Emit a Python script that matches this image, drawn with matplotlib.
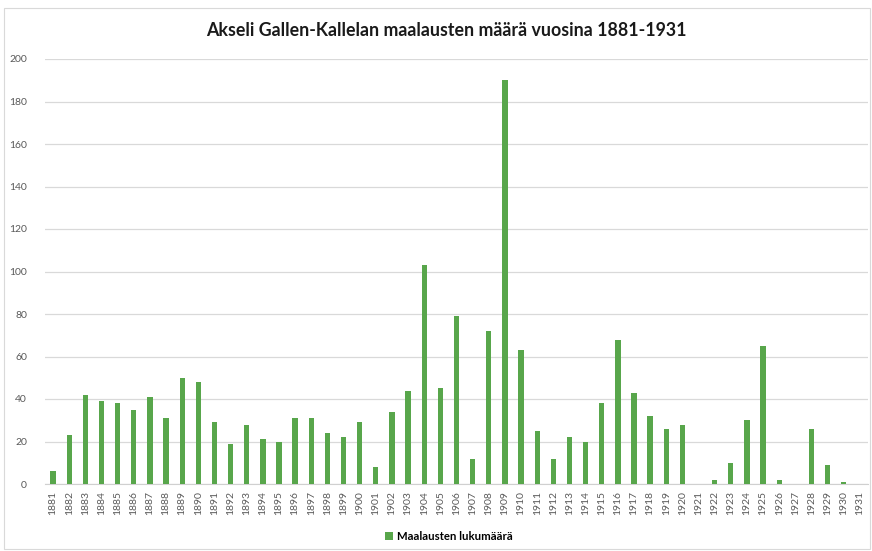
import matplotlib.pyplot as plt
from matplotlib.patches import Rectangle

# vuodet ja maalausten määrät
years = [str(y) for y in range(1881, 1932)]
counts = [6, 23, 42, 39, 38, 35, 41, 31, 50, 48,
          29, 19, 28, 21, 20, 31, 31, 24, 22, 29,
          8, 34, 44, 103, 45, 79, 12, 72, 190, 63,
          25, 12, 22, 20, 38, 68, 43, 32, 26, 28,
          0, 2, 10, 30, 65, 2, 0, 26, 9, 1, 0]

plt.rcParams['font.family'] = ['Lato', 'DejaVu Sans']

fig = plt.figure(figsize=(8.72, 5.51), dpi=100)
fig.patches.append(Rectangle((4 / 872, 2 / 551), 866 / 872, 541 / 551,
                             transform=fig.transFigure, fill=False,
                             edgecolor='#d9d9d9', linewidth=0.8))
ax = fig.add_axes([45 / 872, 1 - 484 / 551, 823 / 872, 425 / 551])

x = list(range(len(years)))
ax.bar(x, counts, width=0.33, color='#58a64b', label='Maalausten lukumäärä', zorder=3)

ax.set_xlim(-0.5, len(years) - 0.5)
ax.set_ylim(0, 200)
ax.set_yticks(range(0, 201, 20))
ax.set_xticks(x)
ax.set_xticklabels(years, rotation=90)
ax.tick_params(axis='both', length=0, labelsize=7.5, labelcolor='#595959')
ax.tick_params(axis='y', pad=13)
ax.tick_params(axis='x', pad=5)
ax.grid(axis='y', color='#d9d9d9', linewidth=0.9, zorder=0)
for s in ['top', 'right', 'left']:
    ax.spines[s].set_visible(False)
ax.spines['bottom'].set_color('#d0d0d0')

fig.text(0.512, 1 - 31 / 551, 'Akseli Gallen-Kallelan maalausten määrä vuosina 1881-1931',
         ha='center', va='center', fontsize=12.8, fontweight='bold', color='#1a1a1a')

fig.legend(loc='center', bbox_to_anchor=(0.515, 1 - 536 / 551), frameon=False,
           handlelength=0.7, handleheight=0.7, handletextpad=0.4,
           prop={'weight': 'bold', 'size': 8.2})

fig.savefig('out.png', dpi=100)
